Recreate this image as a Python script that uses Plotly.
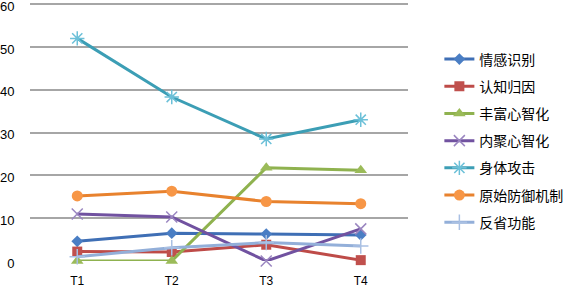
import plotly.graph_objects as go

categories = ["T1", "T2", "T3", "T4"]
series_names = ["情感识别", "认知归因", "丰富心智化", "内聚心智化", "身体攻击", "原始防御机制", "反省功能"]
s_emotion = [4.6, 6.5, 6.3, 6.1]
s_cognition = [2.2, 2.1, 3.8, 0.2]
s_rich = [0, 0, 21.8, 21.2]
s_inner = [11, 10.3, 0, 7.5]
s_attack = [52, 38.3, 28.5, 33]
s_defense = [15.2, 16.3, 13.9, 13.4]
s_reflect = [1, 3.1, 4.3, 3.5]
y_ticks = [0, 10, 20, 30, 40, 50, 60]
y_tick_text = ["0", "10", "20", "30", "40", "50", "60"]

values = [s_emotion, s_cognition, s_rich, s_inner, s_attack, s_defense, s_reflect]
line_colors = ["#3f6fb5", "#be4b48", "#8fb24f", "#7152a0", "#3c9eb5", "#e8822e", "#93afd9"]
marker_colors = ["#4a7ec4", "#c0504d", "#9bbb59", "#9a86c0", "#6cc0d8", "#f79646", "#a9c0e3"]
symbols = ["diamond", "square", "triangle-up", "x-thin-open", "asterisk-open", "circle", "cross-thin-open"]
sizes = [9, 10, 11, 11, 12, 11, 11]

fig = go.Figure()
for i, (name, vals) in enumerate(zip(series_names, values)):
    open_sym = symbols[i].endswith("open")
    fig.add_trace(go.Scatter(
        x=categories, y=vals, name=name, mode="lines+markers",
        line=dict(color=line_colors[i], width=3),
        marker=dict(symbol=symbols[i], size=sizes[i], color=marker_colors[i],
                    line=dict(color=marker_colors[i], width=1.5 if open_sym else 0)),
        cliponaxis=False, legendgroup=str(i),
    ))

fig.update_layout(
    width=567, height=287,
    margin=dict(l=30, r=159, t=2, b=26, autoexpand=False),
    plot_bgcolor="white", paper_bgcolor="white",
    font=dict(family="Liberation Sans, Noto Sans CJK SC", size=12, color="#000000"),
    xaxis=dict(type="category", range=[-0.5, 3.5], showgrid=False, showline=False,
               ticks="outside", ticklen=9, tickcolor="rgba(0,0,0,0)",
               zeroline=False, tickfont=dict(size=12), ticklabeloverflow="allow"),
    yaxis=dict(range=[0, 60.5], tickvals=y_ticks, ticktext=y_tick_text,
               showgrid=True, gridcolor="#a6a6a6",
               gridwidth=1.5, zeroline=False, showline=False, ticks="outside",
               ticklen=12, tickcolor="rgba(0,0,0,0)", ticklabelshift=2,
               tickfont=dict(size=13), ticklabeloverflow="allow"),
    legend=dict(x=1.083, y=0.84, xanchor="left", yanchor="top",
                font=dict(family="Noto Sans CJK SC", size=14),
                traceorder="grouped", tracegroupgap=6, itemwidth=30),
    showlegend=True,
)

fig.write_html("out.html", config={"displayModeBar": False},
               post_script="document.body.style.margin='0';")
